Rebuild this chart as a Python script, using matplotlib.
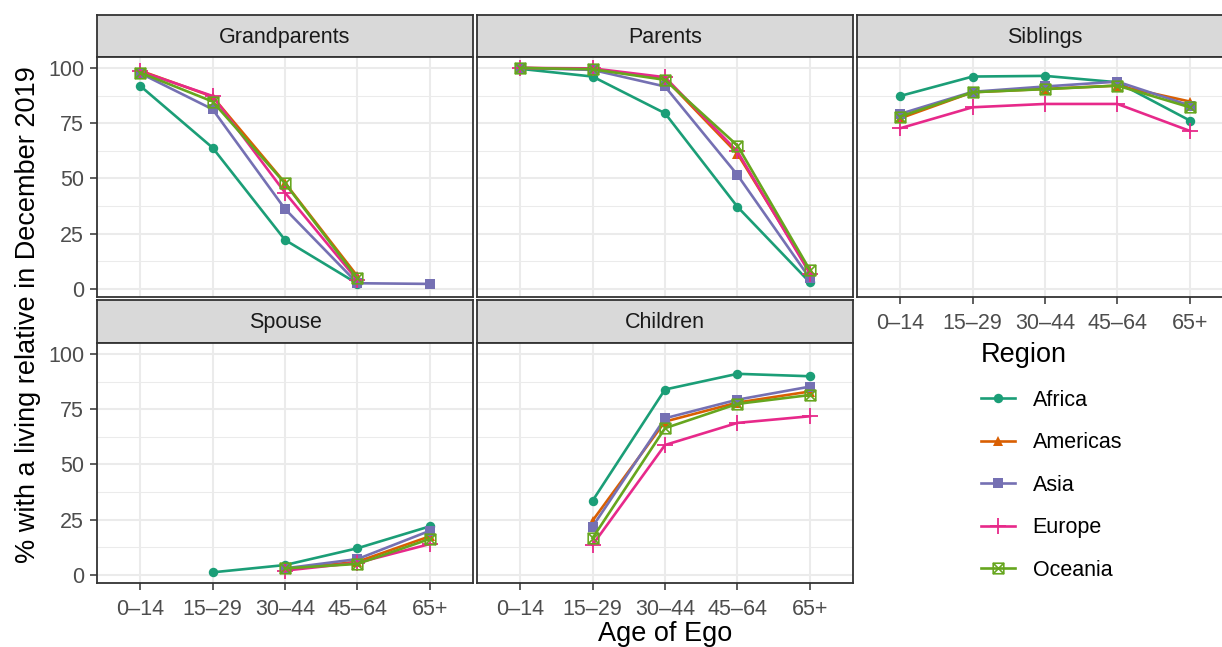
'''
Living relatives by age of ego and region, facet grid
'''

# Imports
import numpy as np
import matplotlib
matplotlib.use('Agg')
import matplotlib.pyplot as plt
from matplotlib.path import Path
from matplotlib.lines import Line2D

nan = np.nan

# Data
AGE_GROUPS = ['0\u201314', '15\u201329', '30\u201344', '45\u201364', '65+']
REGIONS = ['Africa', 'Americas', 'Asia', 'Europe', 'Oceania']
PANELS = ['Grandparents', 'Parents', 'Siblings', 'Spouse', 'Children']

grandparents = {
    'Africa':   [91.9, 63.9, 22.2, 2.4, nan],
    'Americas': [98.8, 87.0, 48.0, 5.8, nan],
    'Asia':     [97.6, 81.3, 36.2, 2.6, 2.3],
    'Europe':   [98.5, 87.3, 43.6, 4.0, nan],
    'Oceania':  [97.9, 84.8, 47.8, 4.8, nan],
}
parents = {
    'Africa':   [99.6, 96.1, 79.5, 37.2, 3.0],
    'Americas': [100.0, 99.5, 95.2, 61.2, 8.0],
    'Asia':     [100.0, 99.1, 91.6, 51.6, 4.8],
    'Europe':   [100.0, 99.8, 95.8, 62.2, 7.0],
    'Oceania':  [100.0, 99.4, 94.6, 64.9, 8.6],
}
siblings = {
    'Africa':   [87.3, 96.1, 96.4, 93.5, 76.2],
    'Americas': [77.2, 89.0, 90.5, 92.0, 84.8],
    'Asia':     [79.2, 89.2, 91.6, 93.8, 83.0],
    'Europe':   [72.7, 82.2, 83.7, 83.7, 71.5],
    'Oceania':  [78.0, 89.0, 90.4, 92.0, 82.2],
}
spouse = {
    'Africa':   [nan, 1.2, 4.5, 12.1, 22.0],
    'Americas': [nan, nan, 2.5, 6.0, 17.5],
    'Asia':     [nan, nan, 3.0, 7.2, 20.0],
    'Europe':   [nan, nan, 2.0, 5.5, 14.0],
    'Oceania':  [nan, nan, 3.0, 5.0, 16.3],
}
children = {
    'Africa':   [nan, 33.6, 83.9, 91.0, 89.9],
    'Americas': [nan, 24.6, 69.4, 78.0, 83.0],
    'Asia':     [nan, 21.9, 70.9, 79.3, 85.2],
    'Europe':   [nan, 13.6, 58.8, 68.8, 71.8],
    'Oceania':  [nan, 16.7, 66.4, 77.4, 81.4],
}
PANEL_DATA = [grandparents, parents, siblings, spouse, children]

# Styles
COLORS = {'Africa': '#1B9E77', 'Americas': '#D95F02', 'Asia': '#7570B3',
          'Europe': '#E7298A', 'Oceania': '#66A61E'}
boxX = Path([(-1, -1), (1, -1), (1, 1), (-1, 1), (-1, -1),
             (-1, -1), (1, 1), (-1, 1), (1, -1)],
            [Path.MOVETO, Path.LINETO, Path.LINETO, Path.LINETO, Path.CLOSEPOLY,
             Path.MOVETO, Path.LINETO, Path.MOVETO, Path.LINETO])
MARKERS = {
    'Africa':   dict(marker='o', markersize=6.8, markeredgewidth=0),
    'Americas': dict(marker='^', markersize=7.8, markeredgewidth=0),
    'Asia':     dict(marker='s', markersize=7.0, markeredgewidth=0),
    'Europe':   dict(marker='+', markersize=11.5, markeredgewidth=1.3),
    'Oceania':  dict(marker=boxX, markersize=7.6, markeredgewidth=1.2,
                     markerfacecolor='none'),
}

W, H = 1222, 647
GREY20 = '#333333'
FS_TICK = 15.5
FS_TITLE = 19.5

COLS = [(96.7, 473.3), (476.7, 853.3), (856.7, 1233.3)]
ROWS = [((15, 57), (57, 297.3)), ((300, 343), (343, 583.3))]


def PixAxes(fig, x0, y0, x1, y1):
    return fig.add_axes([x0 / W, 1 - y1 / H, (x1 - x0) / W, (y1 - y0) / H])


fig = plt.figure(figsize=(W / 100, H / 100), dpi=100)
plt.rcParams['font.family'] = ['Liberation Sans', 'DejaVu Sans']

xs = np.arange(1, len(AGE_GROUPS) + 1)
for i, (name, data) in enumerate(zip(PANELS, PANEL_DATA)):
    r, c = divmod(i, 3)
    (sy0, sy1), (py0, py1) = ROWS[r]
    cx0, cx1 = COLS[c]

    # strip
    st = PixAxes(fig, cx0, sy0, cx1, sy1)
    st.set_facecolor('#D9D9D9')
    st.set_xticks([])
    st.set_yticks([])
    for sp in st.spines.values():
        sp.set_color(GREY20)
        sp.set_linewidth(1.3)
    st.text(0.5, 0.47, name, ha='center', va='center', fontsize=FS_TICK,
            color='#1A1A1A', transform=st.transAxes)

    # panel
    ax = PixAxes(fig, cx0, py0, cx1, py1)
    ax.set_xlim(0.4, 5.6)
    ax.set_ylim(-3.76, 104.94)
    ax.set_yticks([0, 25, 50, 75, 100])
    ax.set_yticks([12.5, 37.5, 62.5, 87.5], minor=True)
    ax.set_xticks(xs)
    ax.set_xticklabels(AGE_GROUPS)
    ax.grid(True, which='major', color='#EBEBEB', linewidth=1.5)
    ax.grid(True, which='minor', axis='y', color='#EBEBEB', linewidth=0.75)
    ax.set_axisbelow(True)
    for sp in ax.spines.values():
        sp.set_color(GREY20)
        sp.set_linewidth(1.3)
    ax.tick_params(which='minor', length=0)
    ax.tick_params(which='major', color=GREY20, width=1.1, length=5,
                   labelsize=FS_TICK, labelcolor='#4D4D4D')
    ax.tick_params(axis='x', pad=6)
    ax.tick_params(axis='y', pad=4)

    if c != 0:
        ax.tick_params(axis='y', length=0, labelleft=False)
    has_below = (r == 0 and c < 2)
    if has_below:
        ax.tick_params(axis='x', length=0, labelbottom=False)

    for reg in REGIONS:
        ax.plot(xs, data[reg], color=COLORS[reg], linewidth=1.9,
                markeredgecolor=COLORS[reg], **MARKERS[reg],
                label=reg, zorder=3)

    if i == 0:
        handles = [Line2D([], [], color=COLORS[reg], linewidth=1.9,
                          markeredgecolor=COLORS[reg], **MARKERS[reg])
                   for reg in REGIONS]

# Legend
leg = fig.legend(handles, REGIONS, loc='upper left',
                 bbox_to_anchor=(981 / W, 1 - 342 / H), frameon=False,
                 title='Region', title_fontsize=FS_TITLE, fontsize=FS_TICK,
                 labelspacing=1.0, handlelength=1.6, handletextpad=0.8,
                 borderpad=0, borderaxespad=0, alignment='left')

# Axis titles
fig.text(28 / W, 1 - 315 / H, '% with a living relative in December 2019',
         rotation=90, ha='center', va='center', fontsize=FS_TITLE)
fig.text(665 / W, 1 - 634 / H, 'Age of Ego', ha='center', va='center',
         fontsize=FS_TITLE)

fig.savefig('out.png', dpi=100)
